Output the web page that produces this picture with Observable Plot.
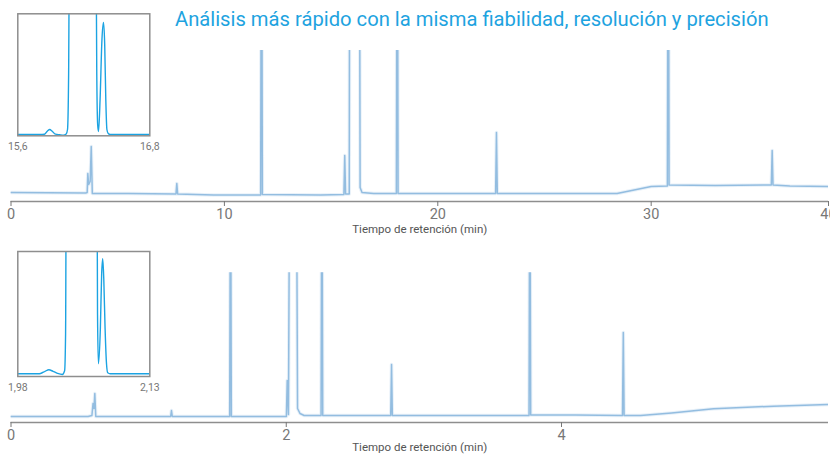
<!DOCTYPE html>
<html>
<head>
<meta charset="utf-8">
<script src="https://cdn.jsdelivr.net/npm/d3@7"></script>
<script src="https://cdn.jsdelivr.net/npm/@observablehq/plot@0.6"></script>
<style>
  html, body { margin: 0; padding: 0; background: #fff; }
  #wrap { position: relative; width: 830px; height: 456px; overflow: hidden; font-family: Roboto, sans-serif; }
  #wrap > div { position: absolute; }
  #title { left: 175px; top: 5px; font-size: 20.2px; line-height: 28px; color: #1ea3e0; white-space: nowrap; z-index: 5; }
  #inset1, #inset2 { z-index: 4; }
</style>
</head>
<body>
<div id="wrap">
  <div id="top" style="left:0;top:0"></div>
  <div id="bottom" style="left:0;top:240px"></div>
  <div id="inset1" style="left:0;top:0"></div>
  <div id="inset2" style="left:0;top:238px"></div>
  <div id="title"></div>
</div>
<script>
// ---- Text ----
const titleText = "Análisis más rápido con la misma fiabilidad, resolución y precisión";
const axisTitle = "Tiempo de retención (min)";

// ---- Ticks ----
const topTicks = [0, 10, 20, 30, 40];
const bottomTicks = [0, 2, 4];
const inset1Ticks = [15.6, 16.8];
const inset2Ticks = [1.98, 2.13];

// ---- Domains ----
const topXDomain = [0, 38.31];
const topYDomain = [-8, 143];
const bottomXDomain = [0, 5.94];
const bottomYDomain = [-6, 143.7];
const inset1YDomain = [-1.3, 120.7];
const inset2YDomain = [-2.7, 122.3];

// ---- Chromatogram, conventional method: [time (min), signal] ----
const topTrace = [
  [0, 1], [3.50, 0.5], [3.57, 1], [3.60, 20], [3.64, 9], [3.71, 12], [3.76, 47], [3.81, 0],
  [5.5, 0], [7.73, -0.5], [7.77, 10], [7.81, -0.5],
  [9.5, -1.5], [11.70, -1.5], [11.74, 400], [11.78, -1],
  [14.5, -1.5], [15.60, -1], [15.64, 38], [15.68, -0.5], [15.85, -0.5], [15.88, 400],
  [16.10, 300], [16.32, 400], [16.36, 6], [16.45, 1], [17.0, 0],
  [18.06, 0], [18.10, 400], [18.14, 0],
  [20.0, 0], [22.71, 0], [22.75, 61], [22.79, 0],
  [26.0, 0], [28.4, 0], [29.2, 3.5], [30.0, 7], [30.76, 7.5], [30.80, 400], [30.84, 8.5],
  [33.0, 8], [35.63, 8.5], [35.67, 43], [35.71, 8.5], [36.5, 7.5], [38.4, 7]
];

// ---- Chromatogram, fast method: [time (min), signal] ----
const bottomTrace = [
  [0, 0], [0.56, 0], [0.588, 1], [0.596, 13], [0.603, 8], [0.609, 23], [0.616, 0],
  [0.9, 0], [1.160, 0], [1.166, 6], [1.172, 0],
  [1.4, 0], [1.589, 0], [1.595, 300], [1.601, 0],
  [1.85, 0], [2.001, 0], [2.007, 36], [2.016, 2], [2.026, 300], [2.05, 250], [2.073, 300],
  [2.082, 8], [2.10, 3], [2.13, 1],
  [2.253, 1], [2.259, 300], [2.265, 1],
  [2.5, 1], [2.759, 1], [2.765, 52], [2.771, 1],
  [3.3, 1], [3.764, 1], [3.770, 300], [3.776, 1.5],
  [4.1, 1.5], [4.443, 1], [4.449, 84], [4.455, 1],
  [4.575, 1], [4.8, 3.5], [5.105, 7.7], [5.54, 10.3], [5.95, 12]
];

// ---- Zoomed insets: [time (min), signal] ----
const inset1Trace = [
  [15.60, 0], [15.80, 0], [15.843, 0.3], [15.87, 3.5], [15.891, 5], [15.91, 3.5], [15.943, 0.3],
  [15.98, -0.3], [16.015, -0.7], [16.04, 0.5], [16.052, 5], [16.062, 60], [16.07, 200],
  [16.2, 170], [16.31, 200], [16.318, 60], [16.326, 10], [16.334, 3], [16.348, 35],
  [16.365, 95], [16.379, 112], [16.390, 90], [16.400, 35], [16.410, 5], [16.422, 1],
  [16.44, 0], [16.8, 0]
];
const inset2Trace = [
  [1.98, 0], [2.003, 0], [2.0059, 0.3], [2.011, 2.5], [2.0153, 4], [2.02, 2.5], [2.025, 0.5],
  [2.0306, -0.7], [2.0332, 3], [2.0343, 40], [2.0351, 200], [2.05, 170], [2.0700, 200],
  [2.0706, 60], [2.0716, 10], [2.0738, 45], [2.0753, 100], [2.0765, 115], [2.0777, 95],
  [2.0792, 45], [2.0808, 10], [2.0822, 1], [2.085, 0], [2.13, 0]
];

document.getElementById("title").textContent = titleText;

const traceColor = "#93bde0";
const haloColor = "#e2edf7";
const axisColor = "#8e8e8e";
const fmtComma = d => String(d).replace(".", ",");

function mainChart(trace, xDomain, yDomain, ticks, opts) {
  return Plot.plot({
    width: 830, height: opts.height,
    marginLeft: 10.5, marginRight: 2, marginTop: opts.marginTop, marginBottom: opts.marginBottom,
    style: { fontFamily: "Roboto, sans-serif", background: "transparent" },
    x: { domain: xDomain, clamp: true, axis: null },
    y: { domain: yDomain, axis: null },
    marks: [
      Plot.line(trace, { x: d => d[0], y: d => d[1], stroke: haloColor, strokeWidth: 3.5, strokeOpacity: 0.8, clip: true }),
      Plot.line(trace, { x: d => d[0], y: d => d[1], stroke: traceColor, strokeWidth: 1.5, clip: true }),
      Plot.ruleY([yDomain[0]], { stroke: axisColor, strokeWidth: 1.6 }),
      Plot.axisX({ ticks: ticks, tickSize: 5, tickPadding: 2, fontSize: 14.5, color: "#777", label: null, tickFormat: d => String(d) }),
      Plot.text([axisTitle], { frameAnchor: "bottom", dy: opts.titleDy, fontSize: 11.5, fill: "#555" })
    ]
  });
}

function inset(trace, ticks, yDomain, opts) {
  return Plot.plot({
    width: 170, height: 155,
    marginLeft: 17.3, marginRight: 20.7, marginTop: opts.marginTop, marginBottom: opts.marginBottom,
    style: { fontFamily: "Roboto, sans-serif", background: "transparent" },
    x: { domain: [ticks[0], ticks[1]], axis: null },
    y: { domain: yDomain, axis: null },
    marks: [
      Plot.line(trace, { x: d => d[0], y: d => d[1], stroke: "#1ba3e2", strokeWidth: 1.4, curve: "monotone-x", clip: true }),
      Plot.frame({ stroke: axisColor, strokeWidth: 1.5 }),
      Plot.axisX({ ticks: ticks, tickSize: 0, tickPadding: 7, fontSize: 10.5, color: "#777", label: null, tickFormat: fmtComma })
    ]
  });
}

document.getElementById("top").append(
  mainChart(topTrace, topXDomain, topYDomain, topTicks, { height: 240, marginTop: 50, marginBottom: 39, titleDy: 31 })
);
document.getElementById("bottom").append(
  mainChart(bottomTrace, bottomXDomain, bottomYDomain, bottomTicks, { height: 216, marginTop: 32.3, marginBottom: 34, titleDy: 28 })
);
document.getElementById("inset1").append(
  inset(inset1Trace, inset1Ticks, inset1YDomain, { marginTop: 13.3, marginBottom: 19.7 })
);
document.getElementById("inset2").append(
  inset(inset2Trace, inset2Ticks, inset2YDomain, { marginTop: 13, marginBottom: 17 })
);
</script>
</body>
</html>
